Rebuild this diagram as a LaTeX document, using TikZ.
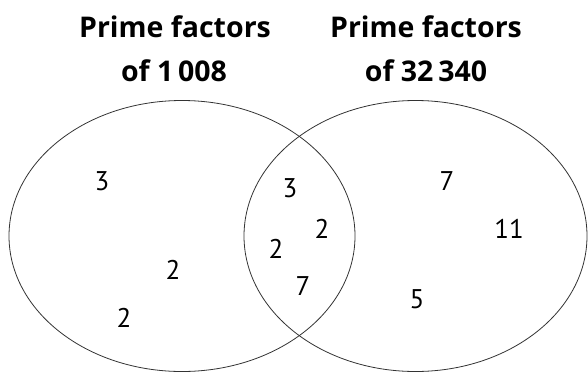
\documentclass[tikz,border=0pt]{standalone}
\usepackage{fontspec}
\setmainfont{PT Sans}
\newfontfamily\headfont{Open Sans}
\usetikzlibrary{shapes.geometric}
\begin{document}
\begin{tikzpicture}[x=1pt,y=-1pt,
  setline/.style={draw=black!80,line width=0.8pt,ellipse,inner sep=0pt},
  heading/.style={font=\headfont\bfseries\fontsize{28.5}{34}\selectfont,anchor=base,inner sep=0pt},
  num/.style={font=\fontsize{27}{30}\selectfont,inner sep=0pt}]
\useasboundingbox (0,0) rectangle (588,372);
\node[setline,minimum width=346pt,minimum height=271pt] (A) at (182,236) {};
\node[setline,minimum width=343pt,minimum height=271pt] (B) at (415.5,236) {};
\node[heading] (hA1) at (175,37) {Prime factors};
\node[heading] (hA2) at (174,81) {of 1\,008};
\node[heading] (hB1) at (426,37) {Prime factors};
\node[heading] (hB2) at (426,81) {of 32\,340};
\node[num] (a1) at (102,181) {3};
\node[num] (a2) at (173,270) {2};
\node[num] (a3) at (124,318) {2};
\node[num] (c1) at (290,188) {3};
\node[num] (c2) at (322,229) {2};
\node[num] (c3) at (276,249) {2};
\node[num] (c4) at (303,286) {7};
\node[num] (b1) at (447,181) {7};
\node[num] (b2) at (509,229) {11};
\node[num] (b3) at (417,299) {5};
\end{tikzpicture}
\end{document}
